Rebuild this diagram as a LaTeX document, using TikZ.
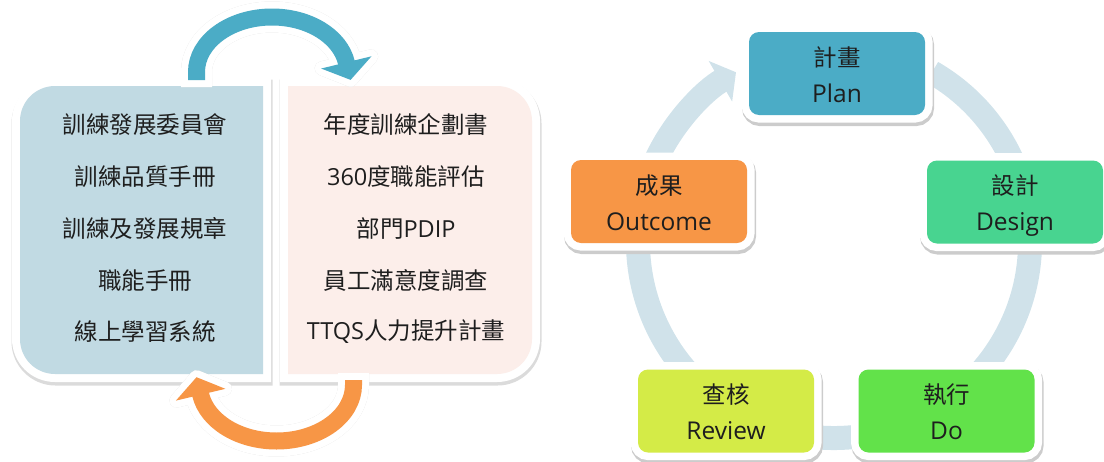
\documentclass[tikz,border=0pt]{standalone}
\usepackage{fontspec}
\setmainfont{Noto Sans CJK TC}
\newfontfamily\latinfont{Open Sans}
\usetikzlibrary{arrows.meta}

\definecolor{panelblue}{HTML}{C1DAE3}
\definecolor{panelpink}{HTML}{FCEEEA}
\definecolor{planblue}{HTML}{4BACC6}
\definecolor{designgreen}{HTML}{48D490}
\definecolor{dogreen}{HTML}{62E24A}
\definecolor{reviewlime}{HTML}{D4EB47}
\definecolor{outorange}{HTML}{F79646}
\definecolor{ringgray}{HTML}{D0E2EA}
\definecolor{textgray}{HTML}{1E1E1E}

\begin{document}
\begin{tikzpicture}[x=1pt,y=-1pt]

\tikzstyle{panelhalo}=[preaction={draw=black!14,fill=black!14,line width=18pt,transform canvas={xshift=.5pt,yshift=-2.5pt}},preaction={draw=white,line width=16pt}]
\tikzstyle{boxhalo}=[preaction={draw=black!20,fill=black!20,line width=16pt,transform canvas={xshift=1pt,yshift=-3pt}},preaction={draw=white,line width=15pt}]
\tikzstyle{item}=[text=textgray,font=\fontsize{23.5}{28}\selectfont]
\tikzstyle{cyclebox}=[rectangle,rounded corners=10pt,minimum width=176pt,minimum height=83pt,inner sep=0pt,align=center,text=textgray,font=\fontsize{23.5}{36}\selectfont,boxhalo]
\tikzstyle{ringline}=[ringgray,line width=24pt]

\def \ringr {196}

\useasboundingbox (0,0) rectangle (1104,461);

% left side: two panels
\path[panelhalo,fill=panelblue] (263,86) -- (55,86) arc[start angle=270,end angle=180,radius=35] -- (20,339) arc[start angle=180,end angle=90,radius=35] -- (263,374) -- cycle;
\path[panelhalo,fill=panelpink] (288,86) -- (497,86) arc[start angle=270,end angle=360,radius=35] -- (532,339) arc[start angle=0,end angle=90,radius=35] -- (288,374) -- cycle;

\foreach \i/\txt in {1/訓練發展委員會, 2/訓練品質手冊, 3/訓練及發展規章, 4/職能手冊, 5/線上學習系統}
{
  \node[item] (base\i) at (145,{125+51.75*(\i-1)}) {\txt};
}
\foreach \i/\txt in {1/年度訓練企劃書, 2/{\latinfont 360}度職能評估, 3/部門{\latinfont PDIP}, 4/員工滿意度調查, 5/{\latinfont TTQS}人力提升計畫}
{
  \node[item] (plan\i) at (406,{125+51.75*(\i-1)}) {\txt};
}

% curved arrows between the panels
\coordinate (upstart) at (196.5,80);
\coordinate (uptip) at (350.6,79.9);
\coordinate (upwingA) at (371.2,56.4);
\coordinate (upwingB) at (321.6,68.4);
\coordinate (downstart) at (353.5,380);
\coordinate (downtip) at (196.5,377.2);
\coordinate (downwingA) at (225,388.8);
\coordinate (downwingB) at (176.4,400.6);

\foreach \dx/\dy/\col in {1.5/3/black!14, 0/0/white}
{
  \begin{scope}[shift={(\dx,\dy)}]
    \draw[\col,line width=31pt] (upstart) ++(0,7) -- ++(0,-15) arc[start angle=180,end angle=350,x radius=75.5,y radius=55];
    \filldraw[\col,line width=14pt,line join=round] (uptip) -- (upwingA) -- (upwingB) -- cycle;
    \draw[\col,line width=31pt] (downstart) ++(0,-7) -- ++(0,12) arc[start angle=0,end angle=170,x radius=77,y radius=56];
    \filldraw[\col,line width=14pt,line join=round] (downtip) -- (downwingA) -- (downwingB) -- cycle;
  \end{scope}
}
\draw[planblue,line width=17pt,-{Triangle[width=51pt,length=18pt]}] (upstart) -- ++(0,-8) arc[start angle=180,end angle=350,x radius=75.5,y radius=55] -- (uptip);
\draw[outorange,line width=17pt,-{Triangle[width=50pt,length=18pt]}] (downstart) -- ++(0,5) arc[start angle=0,end angle=170,x radius=77,y radius=56] -- (downtip);

% right side: the cycle
\coordinate (hub) at (834,242);
\draw[ringline,-{Triangle[width=46pt,length=18pt]}] (hub) ++(-60:\ringr) arc[start angle=-60,end angle=240,radius=\ringr];

\foreach \name/\x/\y/\col/\zh/\en in {plan/837/73.5/planblue/計畫/Plan, design/1015/202/designgreen/設計/Design, do/946.5/411/dogreen/執行/Do, review/726/411/reviewlime/查核/Review, outcome/659/201.5/outorange/成果/Outcome}
{
  \node[cyclebox,fill=\col] (\name) at (\x,\y) {\rule{0pt}{27pt}\zh\\{\latinfont\fontsize{24.5}{36}\selectfont\en\vphantom{g}}};
}
\end{tikzpicture}
\end{document}
